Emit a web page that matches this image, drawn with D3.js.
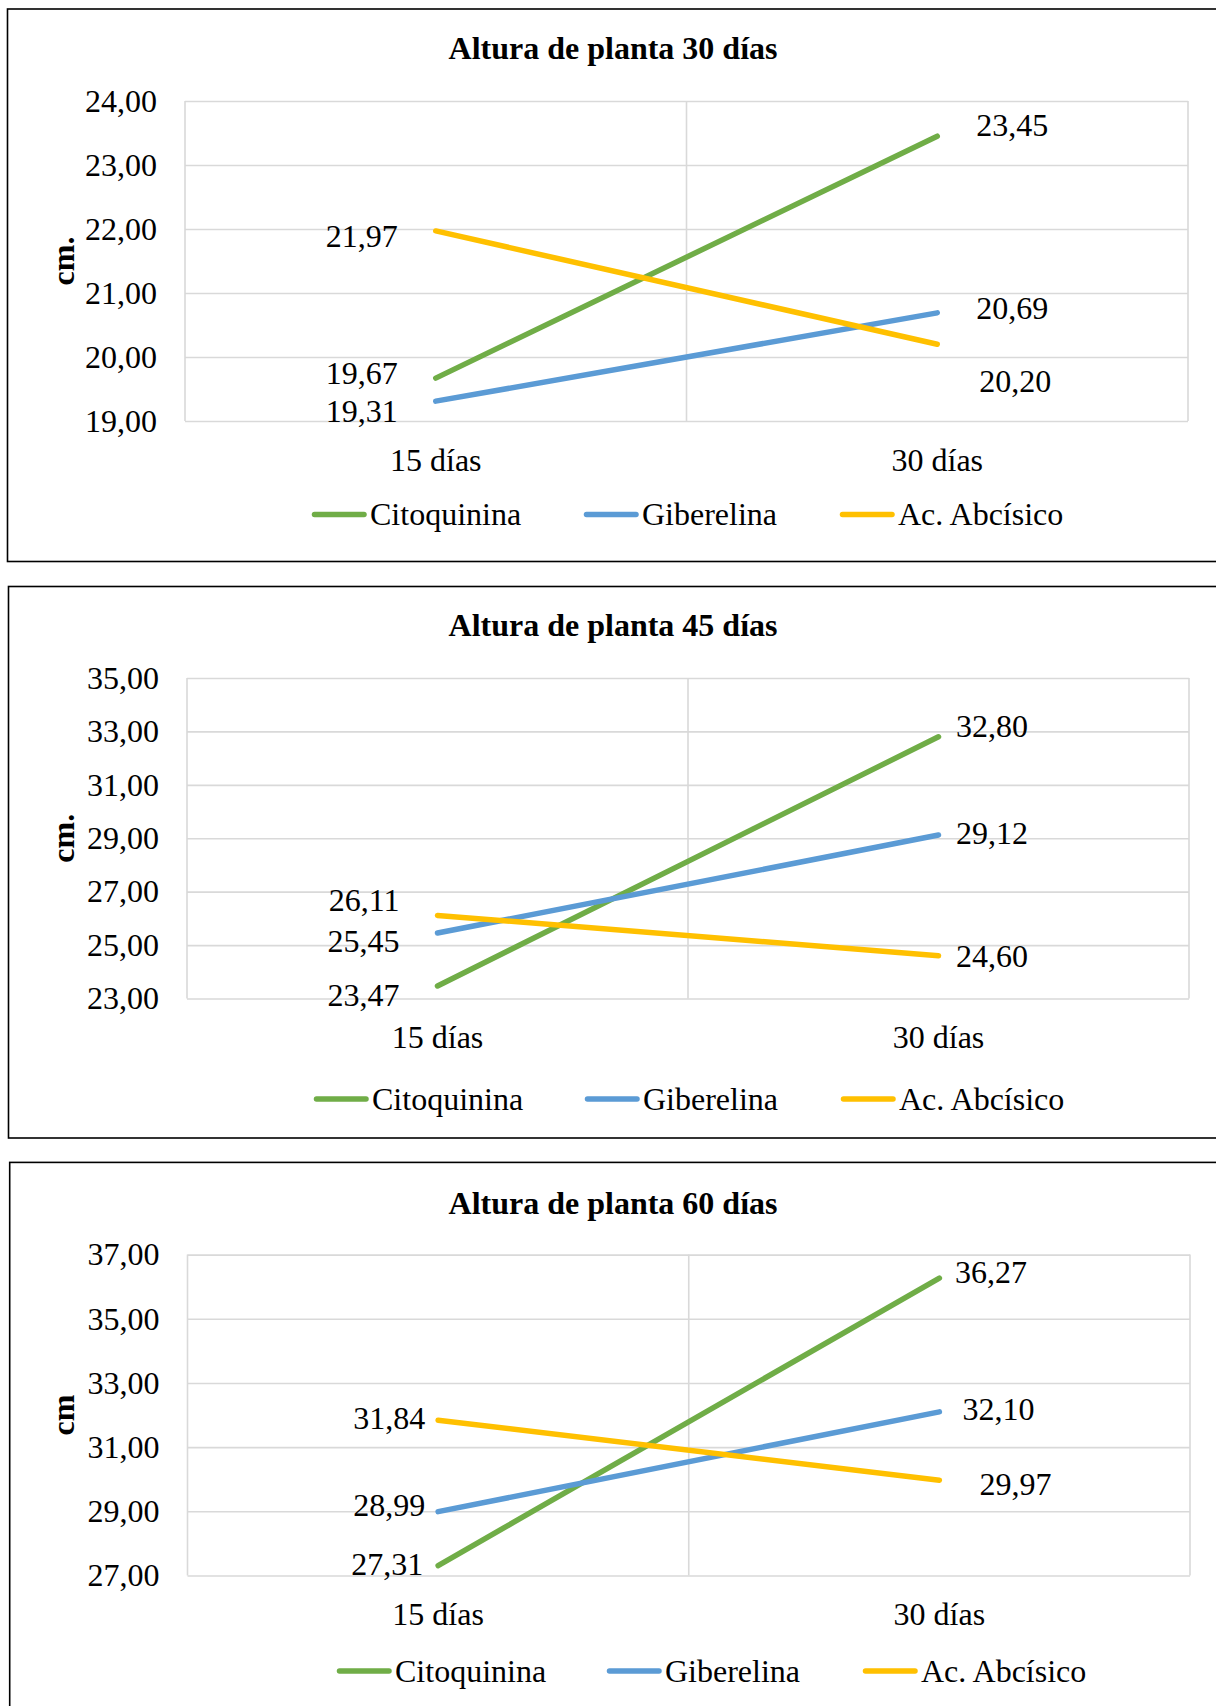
<!DOCTYPE html>
<html>
<head>
<meta charset="utf-8">
<script src="https://cdn.jsdelivr.net/npm/d3@7"></script>
<style>
  html, body { margin: 0; padding: 0; background: #ffffff; }
  svg { display: block; }
  text { font-family: "Times New Roman", "Liberation Serif", serif; fill: #000; }
</style>
</head>
<body>
<svg id="fig" width="1216" height="1706"></svg>
<script>
// ---- data ----
const categories = ["15 días", "30 días"];
const seriesNames = ["Citoquinina", "Giberelina", "Ac. Abcísico"];
const seriesColors = ["#70AD47", "#5B9BD5", "#FFC000"];

const titles = ["Altura de planta 30 días", "Altura de planta 45 días", "Altura de planta 60 días"];
const yTitles = ["cm.", "cm.", "cm"];

const citoquinina30 = [19.67, 23.45];
const giberelina30 = [19.31, 20.69];
const abcisico30 = [21.97, 20.20];

const citoquinina45 = [23.47, 32.80];
const giberelina45 = [25.45, 29.12];
const abcisico45 = [26.11, 24.60];

const citoquinina60 = [27.31, 36.27];
const giberelina60 = [28.99, 32.10];
const abcisico60 = [31.84, 29.97];

const ticks30 = [19, 20, 21, 22, 23, 24];
const ticks45 = [23, 25, 27, 29, 31, 33, 35];
const ticks60 = [27, 29, 31, 33, 35, 37];

// ---- layout ----
const charts = [
  {
    title: titles[0], yTitle: yTitles[0], ticks: ticks30,
    series: [citoquinina30, giberelina30, abcisico30],
    box: { x: 7.5, y: 9, w: 1230, h: 552.5 },
    plot: { left: 185, right: 1188, top: 101, bottom: 421 },
    titleY: 48,
    legendY: 514.5, legendX: [312, 584, 840],
    // [dx, dy] of each value label from its point
    labelOffsets: [
      [[-38, -5.5], [39, -11]],
      [[-38, 9.6], [39, -4.5]],
      [[-38, 5], [42, 37]]
    ]
  },
  {
    title: titles[1], yTitle: yTitles[1], ticks: ticks45,
    series: [citoquinina45, giberelina45, abcisico45],
    box: { x: 8.5, y: 586.5, w: 1230, h: 551.5 },
    plot: { left: 187, right: 1189, top: 678, bottom: 998.5 },
    titleY: 625.5,
    legendY: 1099, legendX: [314, 585, 841],
    labelOffsets: [
      [[-38, 9.5], [17.5, -11]],
      [[-38, 8], [17.5, -2]],
      [[-38, -15], [17.5, 0]]
    ]
  },
  {
    title: titles[2], yTitle: yTitles[2], ticks: ticks60,
    series: [citoquinina60, giberelina60, abcisico60],
    box: { x: 9.7, y: 1162.4, w: 1230, h: 600 },
    plot: { left: 187.5, right: 1190, top: 1254.6, bottom: 1575.5 },
    titleY: 1203,
    legendY: 1671, legendX: [337, 607, 863],
    labelOffsets: [
      [[-15, -1.5], [15.5, -6]],
      [[-13, -7], [23, -3]],
      [[-13, -2.5], [40, 3.5]]
    ]
  }
];

const FONT = 32;
const LINE_W = 5.5;
const commaFmt = d3.formatLocale({ decimal: ",", thousands: ".", grouping: [3], currency: ["", ""] }).format(".2f");
const GRID = "#D9D9D9";

const svg = d3.select("#fig");

charts.forEach(cfg => {
  const g = svg.append("g");

  // outer frame
  g.append("rect")
    .attr("x", cfg.box.x).attr("y", cfg.box.y)
    .attr("width", cfg.box.w).attr("height", cfg.box.h)
    .attr("fill", "#fff").attr("stroke", "#000").attr("stroke-width", 1.6);

  const p = cfg.plot;
  const x = d3.scaleBand().domain(categories).range([p.left, p.right]).padding(0);
  const y = d3.scaleLinear().domain(d3.extent(cfg.ticks)).range([p.bottom, p.top]);

  // horizontal gridlines + y tick labels
  const yAxis = d3.axisLeft(y).tickValues(cfg.ticks).tickFormat(commaFmt)
    .tickSize(-(p.right - p.left)).tickPadding(28);
  const ya = g.append("g").attr("transform", `translate(${p.left},0)`).call(yAxis);
  ya.select(".domain").remove();
  ya.selectAll(".tick line").attr("stroke", GRID).attr("stroke-width", 1.6);
  ya.selectAll(".tick text")
    .attr("font-size", FONT).attr("fill", "#000")
    .attr("font-family", '"Times New Roman", "Liberation Serif", serif');

  // vertical gridlines at category boundaries
  const bounds = categories.map(c => x(c)).concat([p.right]);
  g.selectAll(".vgrid").data(bounds).enter().append("line")
    .attr("x1", d => d).attr("x2", d => d)
    .attr("y1", p.top).attr("y2", p.bottom)
    .attr("stroke", GRID).attr("stroke-width", 1.6);

  // category labels
  const xAxis = d3.axisBottom(x).tickSize(0).tickPadding(0);
  const xa = g.append("g").attr("transform", `translate(0,${p.bottom})`).call(xAxis);
  xa.select(".domain").remove();
  xa.selectAll(".tick text")
    .attr("font-size", FONT).attr("fill", "#000")
    .attr("font-family", '"Times New Roman", "Liberation Serif", serif')
    .attr("y", 39).attr("dy", "0.34em");

  // series lines
  const cx = c => x(c) + x.bandwidth() / 2;
  const line = d3.line().x((d, i) => cx(categories[i])).y(d => y(d));
  cfg.series.forEach((vals, si) => {
    g.append("path")
      .datum(vals)
      .attr("d", line)
      .attr("fill", "none")
      .attr("stroke", seriesColors[si])
      .attr("stroke-width", LINE_W)
      .attr("stroke-linecap", "round")
      .attr("stroke-linejoin", "round");
  });

  // value labels
  cfg.series.forEach((vals, si) => {
    vals.forEach((v, ci) => {
      const [dx, dy] = cfg.labelOffsets[si][ci];
      g.append("text")
        .attr("x", cx(categories[ci]) + dx)
        .attr("y", y(v) + dy)
        .attr("dy", "0.34em")
        .attr("text-anchor", dx < 0 ? "end" : "start")
        .attr("font-size", FONT)
        .text(commaFmt(v));
    });
  });

  // title
  g.append("text")
    .attr("x", 613).attr("y", cfg.titleY).attr("dy", "0.34em")
    .attr("text-anchor", "middle")
    .attr("font-size", FONT).attr("font-weight", "bold")
    .text(cfg.title);

  // y axis title
  g.append("text")
    .attr("transform", `translate(63,${(p.top + p.bottom) / 2}) rotate(-90)`)
    .attr("dy", "0.34em")
    .attr("text-anchor", "middle")
    .attr("font-size", FONT).attr("font-weight", "bold")
    .text(cfg.yTitle);

  // legend
  seriesNames.forEach((name, si) => {
    const lx = cfg.legendX[si];
    g.append("line")
      .attr("x1", lx + 2.5).attr("x2", lx + 52)
      .attr("y1", cfg.legendY).attr("y2", cfg.legendY)
      .attr("stroke", seriesColors[si]).attr("stroke-width", LINE_W)
      .attr("stroke-linecap", "round");
    g.append("text")
      .attr("x", lx + 58).attr("y", cfg.legendY).attr("dy", "0.34em")
      .attr("font-size", FONT)
      .text(name);
  });
});
</script>
</body>
</html>
